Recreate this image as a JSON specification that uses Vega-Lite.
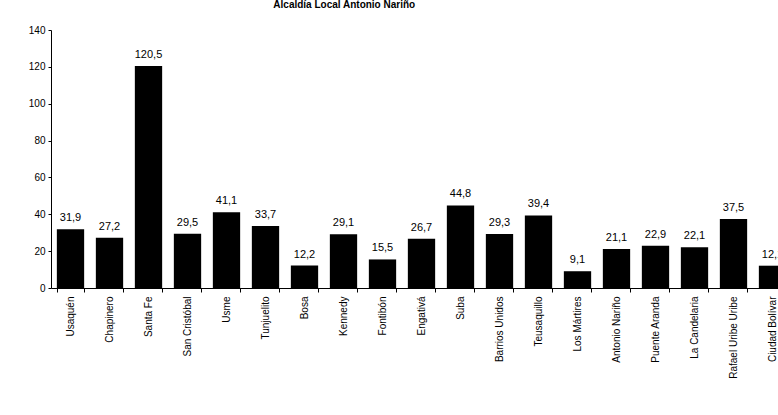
{
  "$schema": "https://vega.github.io/schema/vega-lite/v6.json",
  "width": 741,
  "height": 258,
  "autosize": {"type": "none"},
  "padding": {"left": 51, "top": 30, "right": 0, "bottom": 127},
  "background": "white",
  "title": {"text": "Alcaldía Local Antonio Nariño", "fontSize": 10, "font": "Liberation Sans", "fontWeight": "bold", "anchor": "start", "dx": 245, "offset": 15, "color": "black"},
  "config": {
    "view": {"stroke": null},
    "locale": {"number": {"decimal": ",", "thousands": ".", "grouping": [3], "currency": ["$", ""]}},
    "axis": {"labelFont": "Liberation Sans", "labelColor": "black", "domainColor": "black", "tickColor": "black", "grid": false}
  },
  "data": {"values": [
    {"localidad": "Usaquén", "valor": 31.9},
    {"localidad": "Chapinero", "valor": 27.2},
    {"localidad": "Santa Fe", "valor": 120.5},
    {"localidad": "San Cristóbal", "valor": 29.5},
    {"localidad": "Usme", "valor": 41.1},
    {"localidad": "Tunjuelito", "valor": 33.7},
    {"localidad": "Bosa", "valor": 12.2},
    {"localidad": "Kennedy", "valor": 29.1},
    {"localidad": "Fontibón", "valor": 15.5},
    {"localidad": "Engativá", "valor": 26.7},
    {"localidad": "Suba", "valor": 44.8},
    {"localidad": "Barrios Unidos", "valor": 29.3},
    {"localidad": "Teusaquillo", "valor": 39.4},
    {"localidad": "Los Mártires", "valor": 9.1},
    {"localidad": "Antonio Nariño", "valor": 21.1},
    {"localidad": "Puente Aranda", "valor": 22.9},
    {"localidad": "La Candelaria", "valor": 22.1},
    {"localidad": "Rafael Uribe Uribe", "valor": 37.5},
    {"localidad": "Ciudad Bolívar", "valor": 12.1}
  ]},
  "encoding": {
    "x": {"field": "localidad", "type": "nominal", "sort": null, "title": null,
      "scale": {"paddingInner": 0.3, "paddingOuter": 0.15},
      "axis": {"labelAngle": -90, "labelFontSize": 10, "ticks": true, "tickBand": "extent", "tickSize": 4, "labelPadding": 4}},
    "y": {"field": "valor", "type": "quantitative", "title": null,
      "scale": {"domain": [0, 140]},
      "axis": {"values": [0, 20, 40, 60, 80, 100, 120, 140], "labelFontSize": 10, "tickSize": 3, "labelPadding": 3}}
  },
  "layer": [
    {"mark": {"type": "bar", "color": "black"}},
    {"mark": {"type": "text", "baseline": "bottom", "dy": -6, "fontSize": 11, "font": "Liberation Sans", "color": "black"},
     "encoding": {"text": {"field": "valor", "type": "quantitative", "format": ".1f"}}}
  ]
}
